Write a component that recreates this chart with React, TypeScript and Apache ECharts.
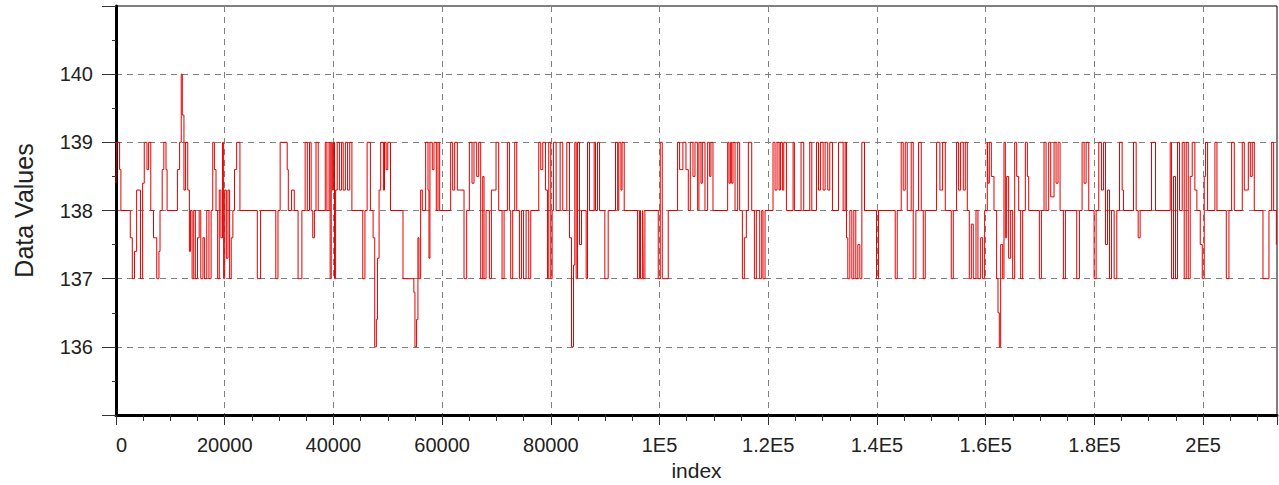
import React, { useEffect, useRef } from "react";
import * as echarts from "echarts";

// Step series: each value holds from its index until the next change index.
const changeIndex = [
  0, 100, 660, 900, 2630, 3000, 3400, 3800, 4500, 4900, 5200, 5700, 6000, 6400, 6900, 7500, 7900, 8100, 8500, 8800,
  9200, 9400, 11300, 11700, 12000, 12200, 12500, 12800, 13200, 13500, 13700, 14000, 14300, 14600, 15000, 15300, 15600,
  16000, 16300, 16700, 17100, 17500, 17800, 18100, 18400, 18700, 19000, 19300, 19600, 19800, 20000, 20300, 20600, 20900,
  21200, 21500, 21800, 22200, 22800, 26000, 26600, 29400, 29800, 30200, 31500, 31700, 32300, 32800, 33500, 34200, 34800,
  35200, 35600, 35900, 36200, 36500, 36800, 37200, 38500, 38800, 39200, 39400, 39600, 39800, 40000, 40200, 40400, 40700,
  41100, 41500, 41800, 42200, 42600, 43000, 43400, 45400, 45800, 46200, 46800, 47300, 47600, 47900, 48100, 48400, 48700,
  49200, 49400, 49700, 50000, 50500, 52800,
  53500, 54800, 55000, 55300, 55550, 55740, 56050, 56350, 56970, 57400, 57580, 57760, 58190, 58500, 58930, 59240, 59550,
  61570, 61940, 62310, 62800, 64030, 64520, 65010, 65500, 65870, 66360, 66730, 67100, 67470, 67710, 68080, 68690, 69060,
  69920, 70410, 71030, 71400, 72010, 72380, 72620, 72990, 73360, 73730, 74220, 74590, 74960, 75450, 75940, 76310, 77780,
  78150, 78520, 79010, 79380, 79620, 79990, 80240, 80480, 80970, 81710, 82200, 82940, 83430, 83800, 84170, 84410, 84660,
  84900, 85270, 85640, 86500, 86750, 87110, 87970, 88220, 88590, 88960, 89940, 90550, 91900, 92300, 92500, 92900, 93100,
  93500, 95960, 96300, 96500, 96900, 97000, 97310, 99760, 100130, 100500, 101600, 103320, 103690, 104300, 104860, 105290,
  105660, 106150, 106520, 107010,
  107250, 107620, 107870, 108360, 108850, 109220, 109460, 109830, 112530, 112780, 113030, 113270, 113520, 113890, 114380,
  114740, 115240, 115600, 115970, 116340, 116960, 117450, 117810, 118430, 118800, 119040, 119410, 120880, 121250, 121620,
  121990, 122240, 122600, 122850, 123340, 124570, 124810, 126040, 126530, 127640, 128010, 128870, 129240, 129600, 130090,
  130460, 130950, 131320, 131810, 132920, 133780, 134150, 134390, 134640, 135010, 135380, 135740, 136110, 136480, 136850,
  137220, 137710, 139920, 140290, 143360, 143730, 144460, 144830, 145200, 145570, 146300, 146670, 147160, 147660, 148150,
  148520, 148880, 150970, 151580, 152080, 152570, 153670, 154040, 154650, 155020, 155390, 155880, 156250, 156620, 156990,
  157360, 157720, 158220, 158580, 159080, 159440, 159810, 160300,
  160430, 160670, 161040, 161530, 162020, 162270, 162510, 162760, 163130, 163370, 163620, 163860, 164230, 164600, 164970,
  165340, 165710, 166080, 166440, 166810, 167300, 167670, 167920, 169880, 170250, 170740, 171110, 171600, 171970, 172580,
  172950, 173320, 173690, 174300, 174670, 176760, 177250, 177740, 178110, 178480, 178970, 179950, 180320, 180810, 181300,
  181670, 182040, 182410, 182780, 183140, 183640, 184130, 184620, 185110, 185350, 187200, 187690, 188060, 188420, 190510,
  191250, 193950, 194200, 194560, 194930, 195300, 195670, 196160, 196530, 196900, 197270, 197630, 198000, 198490, 198860,
  199480, 199850, 200210, 200460, 200830, 202180, 202550, 204270, 204760, 205250, 205740, 207210, 207580, 208320, 208690,
  209050, 209420, 211020, 212120, 212620, 212980, 213480
];

const changeValue = [
  138.4, 139, 138.6, 138, 137.6, 137, 137.4, 138.3, 137, 138.4, 139, 138.6, 139, 138, 137.6, 137, 137.4, 138, 138.6, 139,
  138.6, 138, 138.6, 139, 140, 139.4, 138.3, 139, 138.3, 137.4, 138, 137, 138, 137, 137.6, 138, 137,
  137.6, 137, 138, 137, 138, 139, 138.6, 138, 137, 138.3, 137.6, 139, 137, 138.3, 137.3, 138.3, 137,
  137.6, 138, 138.6, 139, 138, 137, 138, 137, 138, 139, 138.6, 138, 138.3, 138, 137, 138, 139,
  138, 139, 138, 137.6, 138, 139, 138, 139, 138, 139, 137, 139, 138.3, 139, 137, 138.3, 139,
  138.3, 139, 138.3, 139, 138.3, 139, 138, 137, 138, 139, 138, 137.6, 136, 136.4, 137.3, 138.3, 139,
  138.3, 139, 138.6, 139, 138, 137,
  137, 136.8, 136, 136.4, 137.6, 137, 138.3, 138, 139, 138.3, 137.3, 139, 138.6, 139, 138, 139, 138,
  139, 138.3, 139, 138.3, 137, 138, 139, 138.4, 139, 138.5, 139, 137, 138.5, 137, 138, 137, 138.3,
  139, 138, 137, 138, 139, 138, 137, 138, 139, 138, 137, 138, 137, 138, 137, 138, 139,
  138.6, 139, 138.3, 137, 139, 137, 138, 139, 138, 139, 138, 139, 137.6, 136, 137.2, 139, 137,
  139, 137.5, 138, 137, 139, 138, 139, 138, 139, 138, 137, 138, 139, 138, 139, 138.3, 139,
  138, 137, 138, 137, 138, 137, 138, 137, 139, 137, 138, 139, 138.6, 139, 138.6, 138,
  139, 138.5, 139, 138,
  139, 138.4, 139, 138, 139, 138.5, 139, 138, 139, 138.4, 139, 138.4, 139, 138, 139,
  138, 137, 137.6, 138, 139, 138, 137, 138, 137, 138, 137, 138, 139, 138.3, 139,
  138.3, 139, 138.3, 139, 138, 139, 138, 139, 138, 139, 138, 139, 138.3, 139, 138.3,
  139, 138.3, 139, 138, 139, 138, 139, 137.6, 137, 138, 137, 138, 137, 137.5, 137,
  139, 138, 137, 138, 137, 138, 139, 138.3, 139, 138, 139, 137, 138, 139, 138,
  137, 138, 139, 138.3, 139, 138, 137, 138, 139, 138.3, 139, 138.3, 139, 138, 137,
  137.8, 137, 138, 137, 137.6, 137, 138, 139,
  138.4, 139, 138.5, 138, 137, 136.5, 136, 137.5, 137, 139, 137.6, 138.5, 137.3, 138, 137,
  139, 138.5, 138, 137, 138, 139, 138.5, 138, 137, 138, 139, 138, 139, 138.2, 139,
  138.4, 139, 138, 137, 138, 137, 138, 139, 138.4, 139, 138, 137, 138, 139, 138.3,
  139, 137.5, 138.3, 137, 138, 137, 138, 139, 138.3, 138, 139, 138, 137.6, 138, 139,
  138, 139, 137, 138.5, 137, 139, 138, 139, 137, 139, 137, 138.5, 139, 138.3, 138,
  137.5, 137, 138.5, 139, 138, 139, 138, 137, 138, 139, 138, 139, 138.3, 139, 138.5,
  139, 138, 137, 138, 139, 138, 137.5
];

const lastIndex = 213600;

const xTickLabels = ["0", "20000", "40000", "60000", "80000", "1E5", "1.2E5", "1.4E5", "1.6E5", "1.8E5", "2E5"];
const yTickLabels = ["136", "137", "138", "139", "140"];

const FONT = "'Liberation Sans', Arial, sans-serif";

export default function App() {
  const ref = useRef<HTMLDivElement>(null);

  useEffect(() => {
    if (!ref.current) return;
    const chart = echarts.init(ref.current, undefined, { renderer: "svg" });
    const n = Math.min(changeIndex.length, changeValue.length);
    const data: [number, number][] = [];
    for (let i = 0; i < n; i++) data.push([changeIndex[i], changeValue[i]]);
    data.push([lastIndex, changeValue[n - 1]]);

    chart.setOption({
      animation: false,
      grid: {
        left: 116,
        right: 2,
        top: 6,
        bottom: 70,
        show: true,
        borderColor: "#000",
        borderWidth: 1,
        backgroundColor: "transparent",
        containLabel: false,
        outerBoundsMode: "none",
      },
      xAxis: {
        type: "value",
        min: 0,
        max: lastIndex,
        interval: 20000,
        name: "index",
        nameLocation: "middle",
        nameGap: 45,
        nameTextStyle: { fontSize: 21, color: "#222", fontFamily: FONT },
        axisLine: { show: true, onZero: false, lineStyle: { color: "#000", width: 3 } },
        axisTick: { show: true, length: 10, lineStyle: { color: "#333", width: 1 } },
        minorTick: { show: true, splitNumber: 4, length: 6, lineStyle: { color: "#333", width: 1 } },
        axisLabel: {
          margin: 20,
          fontSize: 20,
          color: "#222",
          fontFamily: FONT,
          alignMinLabel: "left",
          formatter: (v: number) => (v % 20000 === 0 && xTickLabels[v / 20000] !== undefined ? xTickLabels[v / 20000] : ""),
        },
        splitLine: {
          show: true,
          showMinLine: false,
          showMaxLine: false,
          lineStyle: { color: "#808080", type: [6, 5], width: 1 },
        },
      },
      yAxis: {
        type: "value",
        min: 135,
        max: 141,
        interval: 1,
        name: "Data Values",
        nameLocation: "middle",
        nameGap: 80,
        nameRotate: 90,
        nameTextStyle: { fontSize: 25, color: "#222", fontFamily: FONT },
        axisLine: { show: true, onZero: false, lineStyle: { color: "#000", width: 3 } },
        axisTick: { show: true, length: 14, lineStyle: { color: "#333", width: 1 } },
        minorTick: { show: true, splitNumber: 2, length: 4, lineStyle: { color: "#333", width: 1 } },
        axisLabel: {
          margin: 23,
          fontSize: 20,
          color: "#222",
          fontFamily: FONT,
          formatter: (v: number) => {
            const k = Math.round(v) - 136;
            return yTickLabels[k] !== undefined ? yTickLabels[k] : "";
          },
        },
        splitLine: {
          show: true,
          showMinLine: false,
          showMaxLine: false,
          lineStyle: { color: "#808080", type: [6, 5], width: 1 },
        },
      },
      series: [
        {
          type: "line",
          data,
          step: "end",
          symbol: "none",
          showSymbol: false,
          silent: true,
          lineStyle: { color: "#e00000", width: 1 },
          itemStyle: { color: "#e00000" },
          z: 3,
        },
      ],
    });

    return () => {
      chart.dispose();
    };
  }, []);

  return (
    <div
      ref={ref}
      style={{ position: "absolute", left: 0, top: 0, width: 1279, height: 485, background: "#fff" }}
    />
  );
}
